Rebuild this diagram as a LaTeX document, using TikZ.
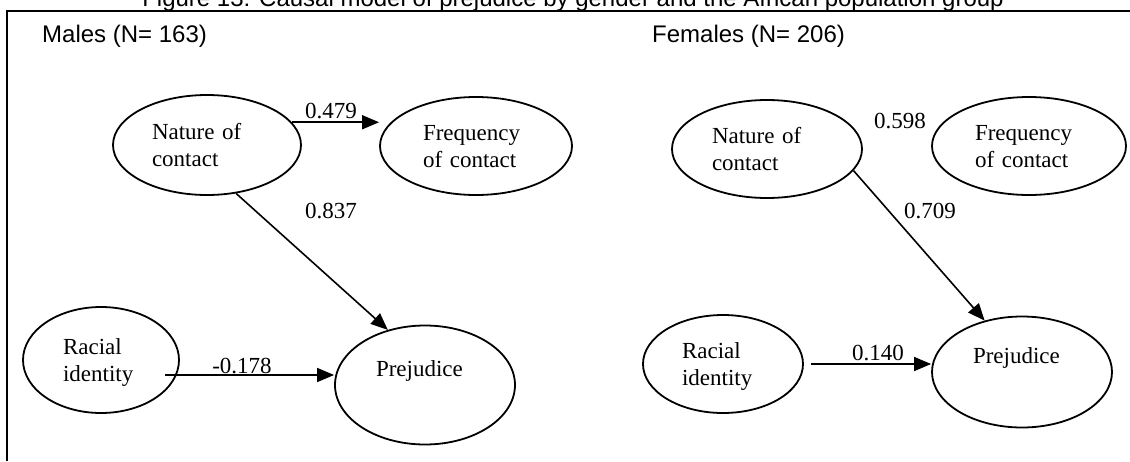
\documentclass[tikz,border=0pt]{standalone}
\usepackage{fontspec}
\setmainfont{Liberation Serif}
\newfontfamily\headfont{Liberation Sans}
\usetikzlibrary{arrows.meta, shapes.geometric, calc}

\begin{document}
\begin{tikzpicture}[x=1pt, y=-1pt,
    oval/.style={draw, ellipse, line width=1.8pt, inner sep=2pt, align=left,
        font=\fontsize{23}{27}\selectfont, text height=16pt, text depth=27pt},
    coef/.style={anchor=base, inner sep=0pt, font=\fontsize{23}{27}\selectfont},
    head/.style={anchor=base west, inner sep=0pt, font=\headfont\fontsize{24}{28}\selectfont},
    link/.style={line width=1.6pt, -{Triangle[length=17pt, width=14pt]}}]
\useasboundingbox (0,0) rectangle (1130,461);

% title, cut at the top edge, and the frame
\node[anchor=base, inner sep=0pt, font=\headfont\fontsize{24}{28}\selectfont] (title) at (573,6)
    {Figure 13: Causal model of prejudice by gender and the African population group};
\draw[line width=1.8pt] (7,461) -- (7,11) -- (1130,11);

% males
\begin{scope}[name prefix=M-]
    \node[head] (group) at (42,42) {Males (N= 163)};
    \node[oval, minimum width=188pt, minimum height=100pt, text width=110pt] (nature) at (207,145) {Nature of\\contact};
    \node[oval, minimum width=192pt, minimum height=98pt, text width=106pt] (freq) at (476,146) {Frequency\\of contact};
    \node[oval, minimum width=156pt, minimum height=106pt, text width=76pt] (racial) at (101,360) {Racial\\identity};
    \node[oval, minimum width=180pt, minimum height=119pt, text width=98pt, text depth=34pt] (prej) at (425,385) {Prejudice};
    \coordinate (racial-out) at ([shift={(64,15)}]racial.center);

    \draw[link] (nature.15) -- (nature.15 -| freq.west);
    \draw[link] (nature.-59) -- (prej.124);
    \draw[link] (racial-out) -- (racial-out -| prej.west);

    \node[coef] (c-freq) at (331,118) {0.479};
    \node[coef] (c-prej) at (331,218) {0.837};
    \node[coef] (c-racial) at (242,373) {-0.178};
\end{scope}

% females
\begin{scope}[name prefix=F-]
    \node[head] (group) at (652,42) {Females (N= 206)};
    \node[oval, minimum width=190pt, minimum height=98pt, text width=110pt] (nature) at (767,149) {Nature of\\contact};
    \node[oval, minimum width=194pt, minimum height=98pt, text width=108pt] (freq) at (1029,146) {Frequency\\of contact};
    \node[oval, minimum width=160pt, minimum height=98pt, text width=82pt] (racial) at (723,364) {Racial\\identity};
    \node[oval, minimum width=180pt, minimum height=111pt, text width=98pt, text depth=34pt] (prej) at (1022,372) {Prejudice};

    \draw[link] (nature.-14) -- (prej.126);
    \draw[link] ([xshift=7pt]racial.east) -- (racial.east -| prej.west);

    \node[coef] (c-freq) at (900,128) {0.598};
    \node[coef] (c-prej) at (930,218) {0.709};
    \node[coef] (c-racial) at (878,360) {0.140};
\end{scope}

\end{tikzpicture}
\end{document}
